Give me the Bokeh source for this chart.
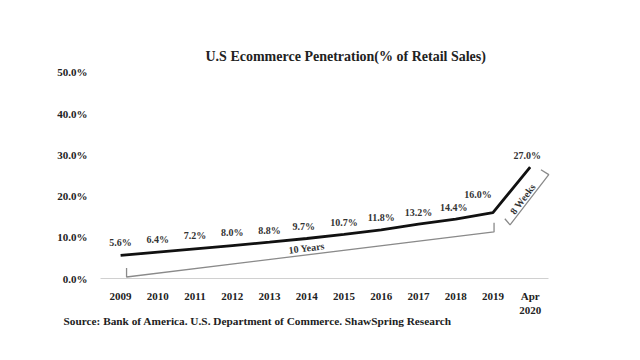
from bokeh.plotting import figure
from bokeh.models import ColumnDataSource, LabelSet, Label, FixedTicker, Range1d, Title
from bokeh.embed import file_html
from bokeh.resources import INLINE

categories = ["2009", "2010", "2011", "2012", "2013", "2014", "2015", "2016",
              "2017", "2018", "2019", "Apr\n2020"]
values = [5.6, 6.4, 7.2, 8.0, 8.8, 9.7, 10.7, 11.8, 13.2, 14.4, 16.0, 27.0]
value_labels = ["5.6%", "6.4%", "7.2%", "8.0%", "8.8%", "9.7%", "10.7%", "11.8%",
                "13.2%", "14.4%", "16.0%", "27.0%"]
y_ticks = [0, 10, 20, 30, 40, 50]
source_text = "Source: Bank of America. U.S. Department of Commerce. ShawSpring Research"

FONT = "Liberation Serif"
xs = list(range(len(categories)))

p = figure(width=624, height=344, output_backend="svg", toolbar_location=None,
           x_range=Range1d(-0.54, 11.6), y_range=Range1d(0, 52.4),
           frame_width=452, frame_height=216,
           min_border_left=100, min_border_top=62, min_border_right=72, min_border_bottom=56)
p.outline_line_color = None
p.grid.grid_line_color = None
p.background_fill_color = "white"

# title
p.title.text = "U.S Ecommerce Penetration(% of Retail Sales)"
p.title.text_font = FONT
p.title.text_font_size = "14px"
p.title.text_font_style = "bold"
p.title.text_color = "#222222"
p.title.align = "left"
p.title.offset = 105
p.title.standoff = -2

# axes
p.xaxis.ticker = FixedTicker(ticks=xs)
p.xaxis.major_label_overrides = {i: c for i, c in enumerate(categories)}
p.xaxis.bounds = (-0.54, 11.48)
p.xaxis.axis_line_color = "#d0d0d0"
p.xaxis.axis_line_width = 1
p.xaxis.major_tick_line_color = None
p.xaxis.minor_tick_line_color = None
p.xaxis.major_label_standoff = 5
p.xaxis.major_label_text_font = FONT
p.xaxis.major_label_text_font_size = "11px"
p.xaxis.major_label_text_font_style = "bold"
p.xaxis.major_label_text_color = "#222222"

p.yaxis.ticker = FixedTicker(ticks=y_ticks)
p.yaxis.major_label_overrides = {t: f"{t:.1f}%" for t in y_ticks}
p.yaxis.axis_line_color = None
p.yaxis.major_tick_line_color = None
p.yaxis.minor_tick_line_color = None
p.yaxis.major_label_standoff = 7
p.yaxis.major_label_text_font = FONT
p.yaxis.major_label_text_font_size = "11px"
p.yaxis.major_label_text_font_style = "bold"
p.yaxis.major_label_text_color = "#222222"

# main line
p.line(xs, values, line_color="#111111", line_width=2.8)

# value labels
label_dx = [0, 0, 0, 0, 0, -3, 0, 0, 0, -2, -15, -3]
label_dy = [13, 13, 13, 13, 12, 12, 12, 12, 12, 12, 18, 12]
src = ColumnDataSource(dict(x=xs, y=values, t=value_labels, dx=label_dx, dy=label_dy))
p.add_layout(LabelSet(x="x", y="y", text="t", source=src, x_offset="dx", y_offset="dy",
                      text_align="center", text_baseline="middle", text_font=FONT,
                      text_font_size="10px", text_font_style="bold", text_color="#333333"))

# 10 years bracket (from 2009 to 2019)
i0, i1 = 0, 10
bx = [i0 + 0.16, i0 + 0.16, i1 + 0.03, i1 + 0.03]
by = [2.55, 0.36, 11.3, 13.5]
p.line(bx, by, line_color="#8a8a8a", line_width=1.3)
p.add_layout(Label(x=(bx[1] + bx[2]) / 2 - 0.1, y=7.4, text="10 Years", angle=0.122,
                   text_align="center", text_baseline="middle", text_font=FONT,
                   text_font_size="10px", text_font_style="bold", text_color="#333333"))

# 8 weeks bracket (2019 to Apr 2020)
wx = [11.29, 11.5, 10.46, 10.32]
wy = [26.4, 25.2, 13.0, 14.5]
p.line(wx, wy, line_color="#8a8a8a", line_width=1.3)
p.add_layout(Label(x=10.8, y=19.3, text="8 Weeks", angle=0.93,
                   text_align="center", text_baseline="middle", text_font=FONT,
                   text_font_size="10px", text_font_style="bold", text_color="#333333"))

# source note
src_title = Title(text=source_text, align="left", offset=-37, standoff=-12,
                  text_font=FONT, text_font_size="11.3px", text_font_style="bold",
                  text_color="#222222")
p.add_layout(src_title, "below")

open("out.html", "w").write(file_html(p, INLINE))
